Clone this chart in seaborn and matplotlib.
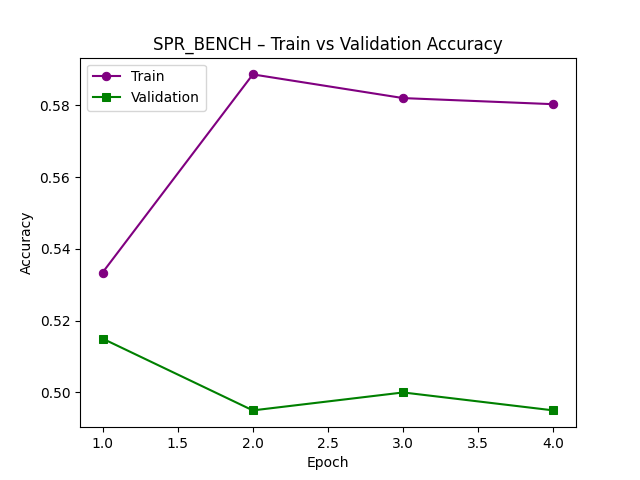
import matplotlib
matplotlib.use("Agg")
import matplotlib.pyplot as plt
import seaborn as sns
import pandas as pd

# --------- Values --------- #
EPOCHS = [1, 2, 3, 4]
TRAIN_ACC = [0.5334, 0.5886, 0.5820, 0.5803]
VAL_ACC = [0.5150, 0.4950, 0.5000, 0.4950]

df = pd.DataFrame({"Epoch": EPOCHS, "Train": TRAIN_ACC, "Validation": VAL_ACC})

fig, ax = plt.subplots(figsize=(6.4, 4.8), dpi=100)
sns.lineplot(data=df, x="Epoch", y="Train", marker="o", color="purple",
             markeredgecolor="purple", label="Train", ax=ax)
sns.lineplot(data=df, x="Epoch", y="Validation", marker="s", color="green",
             markeredgecolor="green", label="Validation", ax=ax)
ax.set_xlabel("Epoch")
ax.set_ylabel("Accuracy")
ax.set_title("SPR_BENCH – Train vs Validation Accuracy")
ax.legend(loc="upper left")
fig.savefig("out.png")
